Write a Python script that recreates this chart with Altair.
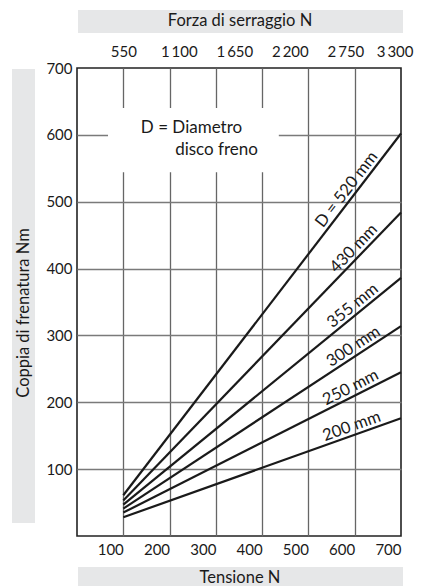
import math
import altair as alt
import pandas as pd

# ---- data ----
tension_ticks = [100, 200, 300, 400, 500, 600, 700]
torque_ticks = [100, 200, 300, 400, 500, 600, 700]
force_ticks = [550, 1100, 1650, 2200, 2750, 3300]
force_axis_domain = [91, 3300]
diameters = ["520", "430", "355", "300", "250", "200"]
line_labels = ["D = 520 mm", "430 mm", "355 mm", "300 mm", "250 mm", "200 mm"]
tension_range = [100, 700]
torque_start = [61, 53, 47, 41, 35, 28]
torque_end = [602, 484, 386, 314, 245, 176]
label_at_tension = [598, 612, 608, 608, 600, 600]

top_title = "Forza di serraggio N"
bottom_title = "Tensione N"
left_title = "Coppia di frenatura Nm"
note_lines = ["D = Diametro", "disco freno"]
note_pos_tension = [138, 212]
note_pos_torque = [611, 577]
box_tension = [67, 436]
box_torque = [544, 640]

# ---- layout ----
W, H = 324, 468
XMAX, YMAX = 700, 700
FONT = "Lato"
INK = "#1a1a1a"
BAND = "#e6e7e8"

rows = []
for d, a, b in zip(diameters, torque_start, torque_end):
    rows.append({"D": d, "tension": tension_range[0], "torque": a})
    rows.append({"D": d, "tension": tension_range[1], "torque": b})
lines_df = pd.DataFrame(rows)

lab_rows = []
for lab, a, b, t in zip(line_labels, torque_start, torque_end, label_at_tension):
    frac = (t - tension_range[0]) / (tension_range[1] - tension_range[0])
    v = a + (b - a) * frac
    ang = math.degrees(math.atan2((b - a) * H / YMAX,
                                  (tension_range[1] - tension_range[0]) * W / XMAX))
    lab_rows.append({"label": lab, "tension": t, "torque": v, "angle": 360 - ang})
labels_df = pd.DataFrame(lab_rows)

note_df = pd.DataFrame({"text": note_lines, "tension": note_pos_tension,
                        "torque": note_pos_torque})
box_df = pd.DataFrame({"x0": [box_tension[0]], "x1": [box_tension[1]],
                       "y0": [box_torque[0]], "y1": [box_torque[1]]})
force_df = pd.DataFrame({"force": force_ticks})
one = pd.DataFrame({"a": [0]})

xscale = alt.Scale(domain=[0, XMAX], nice=False, zero=True)
yscale = alt.Scale(domain=[0, YMAX], nice=False, zero=True)
fscale = alt.Scale(domain=force_axis_domain, nice=False, zero=False)

last_force = force_ticks[-1]

bottom_axis = alt.Axis(
    orient="bottom", values=tension_ticks, title=None, grid=True,
    gridColor={"condition": {"test": "datum.value == 700", "value": "transparent"}, "value": "#666666"},
    gridWidth=1.3, ticks=False, domain=False, labelAlign="right", labelPadding=6,
    labelFontSize=15, labelFont=FONT, labelColor=INK, labelOverlap=False)
top_axis = alt.Axis(
    orient="top", values=force_ticks, title=None, grid=False, ticks=False,
    domain=False, labelPadding=9, labelFontSize=15, labelFont=FONT, labelColor=INK,
    labelOverlap=False, labelFlush=False,
    labelAlign={"condition": {"test": "datum.value == %d" % last_force, "value": "right"}, "value": "center"},
    labelOffset={"condition": {"test": "datum.value == %d" % last_force, "value": 12}, "value": 0},
    labelExpr="replace(format(datum.value, ','), ',', '\u2009')")
left_axis = alt.Axis(
    orient="left", values=torque_ticks, title=None, grid=True,
    gridColor={"condition": {"test": "datum.value == 700", "value": "transparent"}, "value": "#7a7a7a"},
    gridWidth=1.5, ticks=False, domain=False, labelPadding=5,
    labelFontSize=15, labelFont=FONT, labelColor=INK, labelOverlap=False)

force_axis_layer = alt.Chart(force_df).mark_point(opacity=0).encode(
    x=alt.X("force:Q", scale=fscale, axis=top_axis),
    y=alt.value(0),
)

box = alt.Chart(box_df).mark_rect(color="white").encode(
    x=alt.X("x0:Q", scale=xscale, axis=None),
    x2="x1:Q",
    y=alt.Y("y0:Q", scale=yscale, axis=None),
    y2="y1:Q",
)

lines = alt.Chart(lines_df).mark_line(color=INK, strokeWidth=2.2).encode(
    x=alt.X("tension:Q", scale=xscale, axis=bottom_axis),
    y=alt.Y("torque:Q", scale=yscale, axis=left_axis),
    detail="D:N",
)

labels = alt.Chart(labels_df).mark_text(
    font=FONT, fontSize=16.5, color=INK, align="center", baseline="bottom", dy=-1
).encode(
    x=alt.X("tension:Q", scale=xscale, axis=None),
    y=alt.Y("torque:Q", scale=yscale, axis=None),
    text="label:N",
    angle=alt.Angle("angle:Q", scale=None),
)

notes = alt.Chart(note_df).mark_text(
    font=FONT, fontSize=17, color=INK, align="left", baseline="middle"
).encode(
    x=alt.X("tension:Q", scale=xscale, axis=None),
    y=alt.Y("torque:Q", scale=yscale, axis=None),
    text="text:N",
)

band_top = alt.Chart(one).mark_rect(color=BAND).encode(
    x=alt.value(1), x2=alt.value(326), y=alt.value(-58), y2=alt.value(-35))
band_bottom = alt.Chart(one).mark_rect(color=BAND).encode(
    x=alt.value(1), x2=alt.value(326), y=alt.value(499), y2=alt.value(520))
band_left = alt.Chart(one).mark_rect(color=BAND).encode(
    x=alt.value(-65), x2=alt.value(-42), y=alt.value(1), y2=alt.value(455))

t_top = alt.Chart(one).mark_text(font=FONT, fontSize=16.5, color=INK, baseline="middle").encode(
    x=alt.value(163), y=alt.value(-47), text=alt.value(top_title))
t_bottom = alt.Chart(one).mark_text(font=FONT, fontSize=16.5, color=INK, baseline="middle").encode(
    x=alt.value(163), y=alt.value(510), text=alt.value(bottom_title))
t_left = alt.Chart(one).mark_text(font=FONT, fontSize=16.5, color=INK, baseline="middle", angle=270).encode(
    x=alt.value(-53.5), y=alt.value(245), text=alt.value(left_title))

chart = alt.layer(
    band_top, band_bottom, band_left, t_top, t_bottom, t_left,
    force_axis_layer, box, lines, labels, notes
).resolve_scale(x="independent").resolve_axis(x="independent", y="independent").properties(
    width=W, height=H,
    autosize=alt.AutoSizeParams(type="none"),
    padding={"left": 69, "top": 60, "right": 13, "bottom": 50},
).configure_view(stroke="#222222", strokeWidth=1.6)

chart.save("out.html", embed_options={"renderer": "svg", "actions": False})
